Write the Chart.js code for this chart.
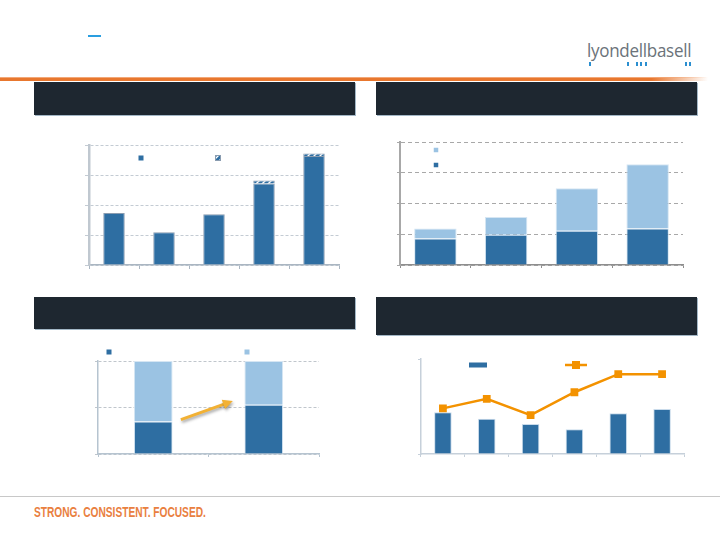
<!DOCTYPE html>
<html>
<head>
<meta charset="utf-8">
<script src="https://cdn.jsdelivr.net/npm/chart.js@4.4.0/dist/chart.umd.min.js"></script>
<style>
  body { margin: 0; width: 720px; height: 540px; position: relative; overflow: hidden; background: #fff; font-family: "Liberation Sans", Arial, sans-serif; }
  .abs { position: absolute; }
  .hdr { position: absolute; background: #1e2730; box-shadow: 1px 1px 0 #a3b7c6; }
  .wrap { position: absolute; }
  .tick { position: absolute; top: 62px; width: 1.5px; height: 4px; background: #2b8fd0; }
</style>
</head>
<body>
<div class="abs" style="left:88px;top:35px;width:13px;height:2px;background:#2a9ee0"></div>
<div class="abs" id="logo" style="left:587px;top:38px;font-family:'Open Sans',sans-serif;font-size:18px;color:#6b737a;letter-spacing:-0.3px;transform-origin:0 0;white-space:nowrap">lyondellbasell</div>
<div class="tick" style="left:589px"></div>
<div class="tick" style="left:627px"></div>
<div class="tick" style="left:636px"></div>
<div class="tick" style="left:640px"></div>
<div class="tick" style="left:645px"></div>
<div class="tick" style="left:685px"></div>
<div class="tick" style="left:689px"></div>
<div class="abs" style="left:0;top:77px;width:708px;height:4px;background:linear-gradient(to right,#e8772e 0%,#e8772e 92%,rgba(232,119,46,0) 100%)"></div>
<div class="abs" style="left:0;top:77px;width:708px;height:1px;background:linear-gradient(to right,#f2a878 0%,#f2a878 92%,rgba(242,168,120,0) 100%)"></div>

<div class="hdr" style="left:34px;top:82px;width:321px;height:33px"></div>
<div class="hdr" style="left:376px;top:82px;width:321px;height:33px"></div>
<div class="hdr" style="left:34px;top:297px;width:321px;height:32px"></div>
<div class="hdr" style="left:376px;top:297px;width:321px;height:38px"></div>

<div class="wrap" id="w1"><canvas id="c1"></canvas></div>
<div class="wrap" id="w2"><canvas id="c2"></canvas></div>
<div class="wrap" id="w3"><canvas id="c3"></canvas></div>
<div class="wrap" id="w4"><canvas id="c4"></canvas></div>

<div class="abs" style="left:0;top:496px;width:720px;height:1px;background:#c8c8c8"></div>
<div class="abs" id="foot" style="left:34px;top:503px;font-family:'Liberation Sans',sans-serif;font-weight:bold;font-size:15.5px;color:#e9803f;white-space:nowrap;transform-origin:0 0">STRONG. CONSISTENT. FOCUSED.</div>

<script>
// chart 1 (top left)
const c1Cats = ['P1', 'P2', 'P3', 'P4', 'P5'];
const c1Solid = [1.73, 1.09, 1.69, 2.72, 3.63];
const c1Hatch = [0, 0, 0, 0.10, 0.09];
// chart 2 (top right)
const c2Cats = ['Q1', 'Q2', 'Q3', 'Q4'];
const c2Dark = [0.86, 0.98, 1.11, 1.19];
const c2Light = [0.33, 0.58, 1.39, 2.09];
// chart 3 (bottom left)
const c3Cats = ['R1', 'R2'];
const c3Dark = [35, 53];
const c3Light = [65, 47];
const arrowFrom = [0.25, 37];
const arrowTo = [0.72, 57];
// chart 4 (bottom right)
const c4Cats = ['S1', 'S2', 'S3', 'S4', 'S5', 'S6'];
const c4Bars = [44, 37, 31.5, 26, 43, 47.5];
const c4Line = [48, 58, 41, 65, 84, 84];

const DARK = '#2e6ea2';
const LIGHT = '#9bc3e3';
const ORANGE = '#f39200';

Chart.defaults.animation = false;
Chart.defaults.plugins.legend.display = false;
Chart.defaults.plugins.tooltip.enabled = false;

const M = 20;
function place(wid, area, tx, ty) {
  const w = document.getElementById(wid);
  w.style.left = (area[0] - M) + 'px';
  w.style.top = (area[1] - M) + 'px';
  w.style.width = (area[2] - area[0] + 2 * M) + 'px';
  w.style.height = (area[3] - area[1] + 2 * M) + 'px';
  return { left: M - ty, top: M, right: M, bottom: M - tx };
}

function hatch() {
  const p = document.createElement('canvas');
  p.width = 6; p.height = 6;
  const g = p.getContext('2d');
  g.fillStyle = DARK; g.fillRect(0, 0, 6, 6);
  g.strokeStyle = '#ffffff'; g.lineWidth = 1.4;
  g.beginPath(); g.moveTo(0, 6); g.lineTo(6, 0); g.moveTo(-3, 3); g.lineTo(3, -3); g.moveTo(3, 9); g.lineTo(9, 3); g.stroke();
  return g.createPattern(p, 'repeat');
}

const boxLegend = {
  id: 'boxLegend',
  afterDraw(chart, args, opts) {
    const a = chart.chartArea, ctx = chart.ctx;
    (opts.items || []).forEach(it => {
      ctx.save();
      if (it.line) {
        ctx.strokeStyle = it.line; ctx.lineWidth = 2.5;
        ctx.beginPath(); ctx.moveTo(a.left + it.x1, a.top + it.y); ctx.lineTo(a.left + it.x2, a.top + it.y); ctx.stroke();
      }
      ctx.fillStyle = it.fill;
      ctx.fillRect(a.left + it.x - it.w / 2, a.top + it.y - it.h / 2, it.w, it.h);
      if (it.stroke) {
        ctx.strokeStyle = it.stroke; ctx.lineWidth = 1;
        ctx.strokeRect(a.left + it.x - it.w / 2, a.top + it.y - it.h / 2, it.w, it.h);
      }
      ctx.restore();
    });
  }
};

const arrowPlug = {
  id: 'arrow',
  afterDatasetsDraw(chart) {
    const xs = chart.scales.x, ys = chart.scales.y, ctx = chart.ctx;
    const x1 = xs.getPixelForValue(arrowFrom[0]), y1 = ys.getPixelForValue(arrowFrom[1]);
    const x2 = xs.getPixelForValue(arrowTo[0]), y2 = ys.getPixelForValue(arrowTo[1]);
    const ang = Math.atan2(y2 - y1, x2 - x1);
    ctx.save();
    ctx.shadowColor = 'rgba(0,0,0,0.35)'; ctx.shadowBlur = 3; ctx.shadowOffsetX = 1; ctx.shadowOffsetY = 2;
    ctx.strokeStyle = '#f2b134'; ctx.fillStyle = '#f2b134'; ctx.lineWidth = 3;
    ctx.beginPath(); ctx.moveTo(x1, y1);
    ctx.lineTo(x2 - 7 * Math.cos(ang), y2 - 7 * Math.sin(ang)); ctx.stroke();
    ctx.beginPath();
    ctx.moveTo(x2, y2);
    ctx.lineTo(x2 - 10 * Math.cos(ang) + 5 * Math.sin(ang), y2 - 10 * Math.sin(ang) - 5 * Math.cos(ang));
    ctx.lineTo(x2 - 10 * Math.cos(ang) - 5 * Math.sin(ang), y2 - 10 * Math.sin(ang) + 5 * Math.cos(ang));
    ctx.closePath(); ctx.fill();
    ctx.restore();
  }
};

function axisX(color, tick) {
  return { stacked: true, ticks: { display: false },
    grid: { drawOnChartArea: false, tickLength: tick, color: color, lineWidth: 1 },
    border: { color: color, width: 1.5 } };
}

// chart 1
new Chart(document.getElementById('c1'), {
  type: 'bar',
  data: { labels: c1Cats, datasets: [
    { data: c1Solid, backgroundColor: DARK, borderColor: '#8a9cb0', borderWidth: 1, categoryPercentage: 1, barPercentage: 0.43 },
    { data: c1Hatch, backgroundColor: hatch(), borderColor: '#8a9cb0', borderWidth: 1, categoryPercentage: 1, barPercentage: 0.43 }
  ] },
  options: {
    responsive: true, maintainAspectRatio: false,
    layout: { padding: place('w1', [89, 145, 339, 265], 4, 4) },
    scales: {
      x: axisX('#aab6c2', 4),
      y: { stacked: true, min: 0, max: 4, ticks: { display: false, stepSize: 1 },
        grid: { color: '#c3cbd3', tickLength: 4 }, border: { color: '#c0c8d0', width: 2.5, dash: [3, 2] } }
    },
    plugins: { boxLegend: { items: [
      { x: 52, y: 13, w: 5, h: 5, fill: DARK },
      { x: 129, y: 13, w: 5, h: 5, fill: hatch(), stroke: '#8a9cb0' }
    ] } }
  },
  plugins: [boxLegend]
});

// chart 2
new Chart(document.getElementById('c2'), {
  type: 'bar',
  data: { labels: c2Cats, datasets: [
    { data: c2Dark, backgroundColor: DARK, borderColor: '#d6e6f3', borderWidth: 1, categoryPercentage: 1, barPercentage: 0.6 },
    { data: c2Light, backgroundColor: LIGHT, borderColor: '#d6e6f3', borderWidth: 1, categoryPercentage: 1, barPercentage: 0.6 }
  ] },
  options: {
    responsive: true, maintainAspectRatio: false,
    layout: { padding: place('w2', [400, 142, 683, 265], 3, 3) },
    scales: {
      x: axisX('#8e8e8e', 3),
      y: { stacked: true, min: 0, max: 4, ticks: { display: false, stepSize: 1 },
        grid: { color: '#a8a8a8', tickLength: 3 }, border: { color: '#a8a8a8', width: 2, dash: [4, 3] } }
    },
    plugins: { boxLegend: { items: [
      { x: 36, y: 8, w: 4.5, h: 4.5, fill: LIGHT },
      { x: 36, y: 23, w: 4.5, h: 4.5, fill: DARK }
    ] } }
  },
  plugins: [boxLegend]
});

// chart 3
new Chart(document.getElementById('c3'), {
  type: 'bar',
  data: { labels: c3Cats, datasets: [
    { data: c3Dark, backgroundColor: DARK, borderColor: '#d6e6f3', borderWidth: 1, categoryPercentage: 1, barPercentage: 0.35 },
    { data: c3Light, backgroundColor: LIGHT, borderColor: '#d6e6f3', borderWidth: 1, categoryPercentage: 1, barPercentage: 0.35 }
  ] },
  options: {
    responsive: true, maintainAspectRatio: false,
    layout: { padding: place('w3', [98, 361, 319, 454], 3, 3) },
    scales: {
      x: axisX('#b6c4d0', 3),
      y: { stacked: true, min: 0, max: 100, ticks: { display: false, stepSize: 50 },
        grid: { color: '#c0c6cc', tickLength: 3 }, border: { color: '#b6c4d0', width: 1.5, dash: [3, 2] } }
    },
    plugins: { boxLegend: { items: [
      { x: 11, y: -9, w: 5, h: 5, fill: DARK },
      { x: 149, y: -9, w: 5, h: 5, fill: LIGHT }
    ] } }
  },
  plugins: [boxLegend, arrowPlug]
});

// chart 4
new Chart(document.getElementById('c4'), {
  type: 'bar',
  data: { labels: c4Cats, datasets: [
    { type: 'line', data: c4Line, borderColor: ORANGE, backgroundColor: ORANGE, borderWidth: 2.5,
      pointStyle: 'rect', pointRadius: 5.5, pointBorderWidth: 0, tension: 0, order: 0 },
    { data: c4Bars, backgroundColor: DARK, borderColor: '#c9dbeb', borderWidth: 1, categoryPercentage: 1, barPercentage: 0.4, order: 1 }
  ] },
  options: {
    responsive: true, maintainAspectRatio: false,
    layout: { padding: place('w4', [421, 359, 684, 454], 3, 3) },
    scales: {
      x: axisX('#c6d0da', 3),
      y: { min: 0, max: 100, ticks: { display: false, stepSize: 100 },
        grid: { drawOnChartArea: false, color: '#c6d0da', tickLength: 3 }, border: { color: '#c6d0da', width: 1.5 } }
    },
    plugins: { boxLegend: { items: [
      { x: 57, y: 6, w: 18, h: 5, fill: DARK },
      { x: 155, y: 6, w: 8, h: 8, fill: ORANGE, line: ORANGE, x1: 144, x2: 166 }
    ] } }
  },
  plugins: [boxLegend]
});

// fit logo and footer widths
const logo = document.getElementById('logo');
logo.style.transform = 'scaleX(' + (104 / logo.offsetWidth) + ')';
const foot = document.getElementById('foot');
foot.style.transform = 'scaleX(' + (172 / foot.offsetWidth) + ')';
</script>
</body>
</html>
